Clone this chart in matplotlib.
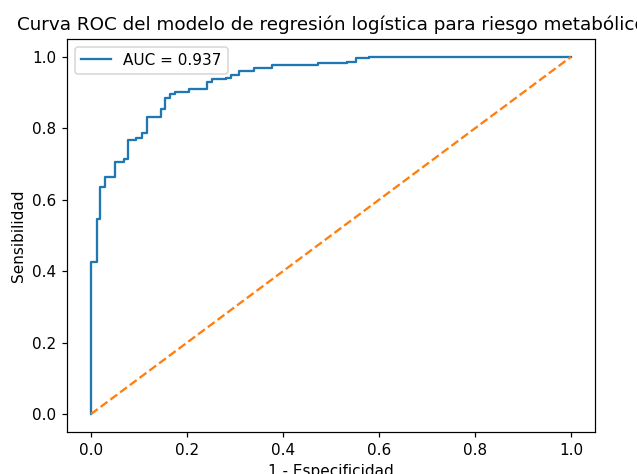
import numpy as np
import matplotlib
matplotlib.use("Agg")
import matplotlib.pyplot as plt

# ROC curve vertices
fpr = [0.0, 0.0, 0.012, 0.012, 0.019, 0.019, 0.030, 0.030, 0.050, 0.050,
       0.069, 0.069, 0.078, 0.078, 0.095, 0.095, 0.107, 0.107, 0.116, 0.116,
       0.147, 0.147, 0.155, 0.155, 0.164, 0.164, 0.175, 0.175, 0.204, 0.204,
       0.242, 0.242, 0.253, 0.253, 0.282, 0.282, 0.291, 0.291, 0.308, 0.308,
       0.339, 0.339, 0.377, 0.377, 0.474, 0.474, 0.533, 0.533, 0.552, 0.552,
       0.580, 0.580, 1.0]
tpr = [0.0, 0.426, 0.426, 0.546, 0.546, 0.637, 0.637, 0.665, 0.665, 0.705,
       0.705, 0.713, 0.713, 0.767, 0.767, 0.774, 0.774, 0.786, 0.786, 0.833,
       0.833, 0.853, 0.853, 0.884, 0.884, 0.896, 0.896, 0.903, 0.903, 0.911,
       0.911, 0.930, 0.930, 0.938, 0.938, 0.942, 0.942, 0.949, 0.949, 0.960,
       0.960, 0.970, 0.970, 0.976, 0.976, 0.983, 0.983, 0.987, 0.987, 0.996,
       0.996, 1.0, 1.0]
auc = 0.937

# slightly higher dpi: the reference text and lines are ~10% larger than default
fig = plt.figure(figsize=(637 / 110, 474 / 110), dpi=110)
ax = fig.add_axes([0.105, 0.0886, 0.829, 0.829])

ax.plot(fpr, tpr, label="AUC = {:.3f}".format(auc))
ax.plot([0, 1], [0, 1], "--")
ax.set_xlabel("1 - Especificidad")
ax.set_ylabel("Sensibilidad")
ax.set_title("Curva ROC del modelo de regresión logística para riesgo metabólico")
ax.legend(loc="upper left")

fig.savefig("out.png", dpi=110)
